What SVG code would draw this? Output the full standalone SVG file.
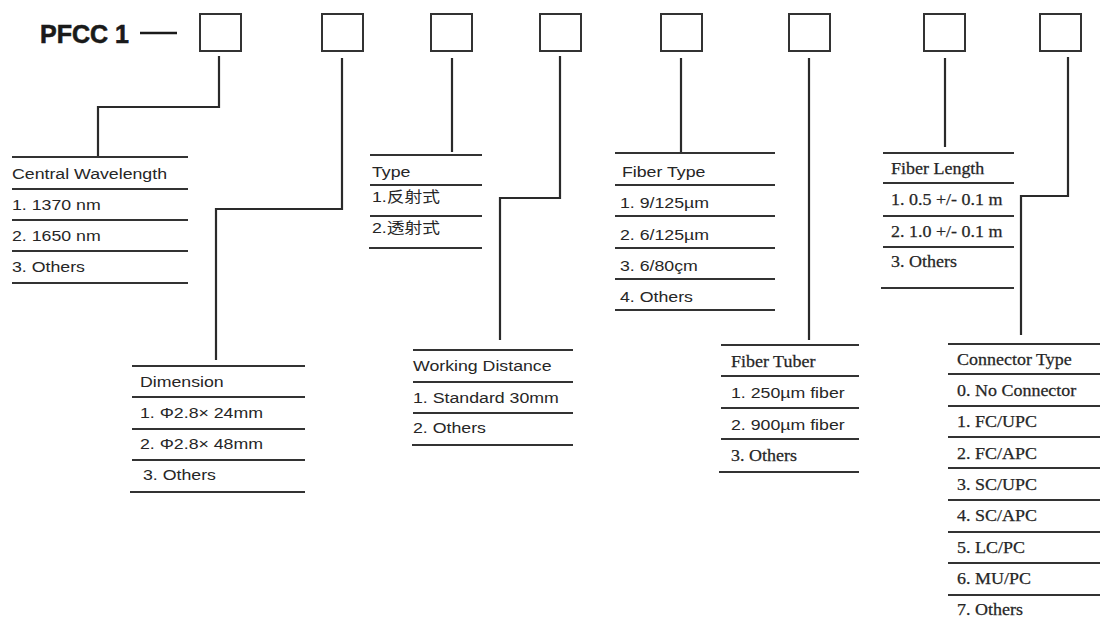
<svg xmlns="http://www.w3.org/2000/svg" width="1100" height="623" viewBox="0 0 1100 623">
<style>
.bg{fill:#fff}
.box{fill:none;stroke:#333;stroke-width:2}
.rl{stroke:#333;stroke-width:2}
.cn{fill:none;stroke:#2a2a2a;stroke-width:2.2}
.s{font-family:"Liberation Sans",Arial,"Noto Sans CJK SC",sans-serif;font-size:15.3px;fill:#262626}
.r{font-family:"Liberation Serif","Times New Roman",serif;font-size:16.5px;fill:#262626;stroke:#262626;stroke-width:0.25}
.title{font-family:"Liberation Sans",Arial,sans-serif;font-size:25px;font-weight:bold;fill:#1a1a1a;stroke:#1a1a1a;stroke-width:0.6}
</style>
<rect class="bg" x="0" y="0" width="1100" height="623"/>
<g id="title">
<text class="title" x="40" y="43">PFCC 1</text>
<line x1="140" y1="33" x2="177" y2="33" stroke="#1a1a1a" stroke-width="2.5"/>
</g>
<g id="boxes">
<rect id="box1" class="box" x="200" y="14" width="41" height="37"/>
<rect id="box2" class="box" x="322" y="14" width="41" height="37"/>
<rect id="box3" class="box" x="431" y="14" width="41" height="37"/>
<rect id="box4" class="box" x="540" y="14" width="41" height="37"/>
<rect id="box5" class="box" x="661" y="14" width="41" height="37"/>
<rect id="box6" class="box" x="789" y="14" width="41" height="37"/>
<rect id="box7" class="box" x="924" y="14" width="41" height="37"/>
<rect id="box8" class="box" x="1040" y="14" width="41" height="37"/>
</g>
<g id="connectors">
<path class="cn" d="M219 56 V107 H98 V157"/>
<path class="cn" d="M342 58 V209 H216 V360"/>
<path class="cn" d="M452 58 V152"/>
<path class="cn" d="M560 56 V198 H500 V340"/>
<path class="cn" d="M681 58 V152"/>
<path class="cn" d="M809 58 V340"/>
<path class="cn" d="M945 58 V147"/>
<path class="cn" d="M1068 57 V196 H1021 V335"/>
</g>
<g id="central-wavelength">
<line class="rl" x1="12" y1="157" x2="188" y2="157"/>
<line class="rl" x1="12" y1="189" x2="188" y2="189"/>
<line class="rl" x1="12" y1="220" x2="188" y2="220"/>
<line class="rl" x1="12" y1="251" x2="188" y2="251"/>
<line class="rl" x1="12" y1="283" x2="188" y2="283"/>
<text class="s" transform="translate(12 179) scale(1.16 1)">Central Wavelength</text>
<text class="s" transform="translate(12 210) scale(1.16 1)">1. 1370 nm</text>
<text class="s" transform="translate(12 241) scale(1.16 1)">2. 1650 nm</text>
<text class="s" transform="translate(12 272) scale(1.16 1)">3. Others</text>
</g>
<g id="dimension">
<line class="rl" x1="132" y1="366" x2="305" y2="366"/>
<line class="rl" x1="132" y1="397" x2="305" y2="397"/>
<line class="rl" x1="132" y1="429" x2="305" y2="429"/>
<line class="rl" x1="132" y1="460" x2="305" y2="460"/>
<line class="rl" x1="130" y1="492" x2="305" y2="492"/>
<text class="s" transform="translate(140 387) scale(1.16 1)">Dimension</text>
<text class="s" transform="translate(140 418) scale(1.16 1)">1. Φ2.8× 24mm</text>
<text class="s" transform="translate(140 449) scale(1.16 1)">2. Φ2.8× 48mm</text>
<text class="s" transform="translate(143 480) scale(1.16 1)">3. Others</text>
</g>
<g id="type">
<line class="rl" x1="370" y1="155" x2="482" y2="155"/>
<line class="rl" x1="370" y1="185" x2="482" y2="185"/>
<line class="rl" x1="370" y1="216" x2="482" y2="216"/>
<line class="rl" x1="369" y1="248" x2="482" y2="248"/>
<text class="s" transform="translate(372 177) scale(1.16 1)">Type</text>
<text class="s" transform="translate(372 202) scale(1.16 1)">1.反射式</text>
<text class="s" transform="translate(372 233) scale(1.16 1)">2.透射式</text>
</g>
<g id="working-distance">
<line class="rl" x1="413" y1="350" x2="573" y2="350"/>
<line class="rl" x1="413" y1="382" x2="573" y2="382"/>
<line class="rl" x1="413" y1="413" x2="573" y2="413"/>
<line class="rl" x1="412" y1="445" x2="573" y2="445"/>
<text class="s" transform="translate(413 371) scale(1.16 1)">Working Distance</text>
<text class="s" transform="translate(413 403) scale(1.16 1)">1. Standard 30mm</text>
<text class="s" transform="translate(413 433) scale(1.16 1)">2. Others</text>
</g>
<g id="fiber-type">
<line class="rl" x1="615" y1="153" x2="775" y2="153"/>
<line class="rl" x1="615" y1="185" x2="775" y2="185"/>
<line class="rl" x1="615" y1="216" x2="775" y2="216"/>
<line class="rl" x1="615" y1="248" x2="775" y2="248"/>
<line class="rl" x1="615" y1="279" x2="775" y2="279"/>
<line class="rl" x1="615" y1="310" x2="775" y2="310"/>
<text class="s" transform="translate(622 177) scale(1.16 1)">Fiber Type</text>
<text class="s" transform="translate(620 208) scale(1.16 1)">1. 9/125µm</text>
<text class="s" transform="translate(620 240) scale(1.16 1)">2. 6/125µm</text>
<text class="s" transform="translate(620 271) scale(1.16 1)">3. 6/80çm</text>
<text class="s" transform="translate(620 302) scale(1.16 1)">4. Others</text>
</g>
<g id="fiber-tuber">
<line class="rl" x1="721" y1="345" x2="859" y2="345"/>
<line class="rl" x1="721" y1="376" x2="859" y2="376"/>
<line class="rl" x1="721" y1="408" x2="859" y2="408"/>
<line class="rl" x1="721" y1="439" x2="859" y2="439"/>
<line class="rl" x1="719" y1="472" x2="859" y2="472"/>
<text class="r" transform="translate(731 367) scale(1.09 1)">Fiber Tuber</text>
<text class="s" transform="translate(731 398) scale(1.16 1)">1. 250µm fiber</text>
<text class="s" transform="translate(731 430) scale(1.16 1)">2. 900µm fiber</text>
<text class="r" transform="translate(731 461) scale(1.09 1)">3. Others</text>
</g>
<g id="fiber-length">
<line class="rl" x1="883" y1="153" x2="1014" y2="153"/>
<line class="rl" x1="883" y1="183" x2="1014" y2="183"/>
<line class="rl" x1="883" y1="216" x2="1014" y2="216"/>
<line class="rl" x1="883" y1="247" x2="1014" y2="247"/>
<line class="rl" x1="881" y1="288" x2="1014" y2="288"/>
<text class="r" transform="translate(891 174) scale(1.09 1)">Fiber Length</text>
<text class="r" transform="translate(891 205) scale(1.09 1)">1. 0.5 +/- 0.1 m</text>
<text class="r" transform="translate(891 237) scale(1.09 1)">2. 1.0 +/- 0.1 m</text>
<text class="r" transform="translate(891 267) scale(1.09 1)">3. Others</text>
</g>
<g id="connector-type">
<line class="rl" x1="948" y1="344" x2="1100" y2="344"/>
<line class="rl" x1="948" y1="374" x2="1100" y2="374"/>
<line class="rl" x1="948" y1="406" x2="1100" y2="406"/>
<line class="rl" x1="948" y1="437" x2="1100" y2="437"/>
<line class="rl" x1="948" y1="468" x2="1100" y2="468"/>
<line class="rl" x1="948" y1="500" x2="1100" y2="500"/>
<line class="rl" x1="948" y1="532" x2="1100" y2="532"/>
<line class="rl" x1="948" y1="563" x2="1100" y2="563"/>
<line class="rl" x1="948" y1="595" x2="1100" y2="595"/>
<text class="r" transform="translate(957 365) scale(1.09 1)">Connector Type</text>
<text class="r" transform="translate(957 396) scale(1.09 1)">0. No Connector</text>
<text class="r" transform="translate(957 427) scale(1.09 1)">1. FC/UPC</text>
<text class="r" transform="translate(957 459) scale(1.09 1)">2. FC/APC</text>
<text class="r" transform="translate(957 490) scale(1.09 1)">3. SC/UPC</text>
<text class="r" transform="translate(957 521) scale(1.09 1)">4. SC/APC</text>
<text class="r" transform="translate(957 553) scale(1.09 1)">5. LC/PC</text>
<text class="r" transform="translate(957 584) scale(1.09 1)">6. MU/PC</text>
<text class="r" transform="translate(957 615) scale(1.09 1)">7. Others</text>
</g>
</svg>
